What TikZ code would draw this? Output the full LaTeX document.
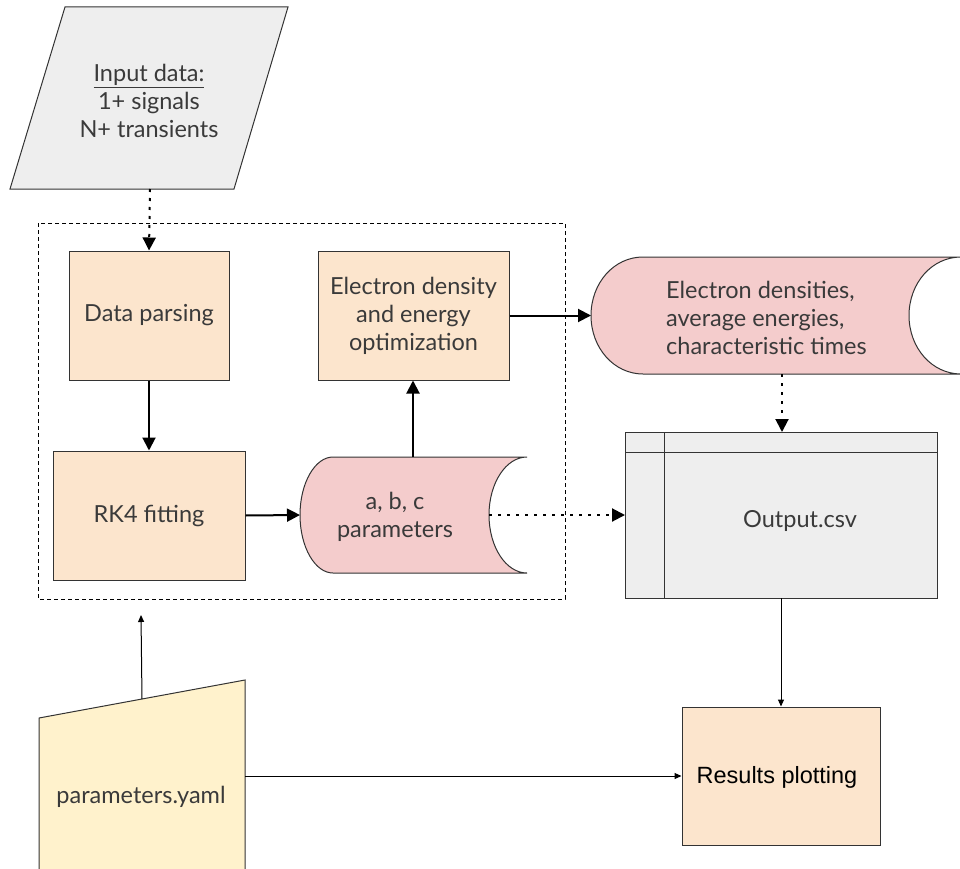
\documentclass[tikz,border=0pt]{standalone}
\usepackage{fontspec}
\setmainfont{Lato}
\newfontfamily\arialfont{Liberation Sans}
\usetikzlibrary{arrows.meta}
\definecolor{procfill}{HTML}{FCE5CD}
\definecolor{storefill}{HTML}{F4CCCC}
\definecolor{greyfill}{HTML}{EEEEEE}
\definecolor{yamlfill}{HTML}{FFF2CC}
\definecolor{ink}{HTML}{333333}
\definecolor{textink}{HTML}{3A3A3A}
\begin{document}
\begin{tikzpicture}[x=1pt,y=-1pt,
  txt/.style={font=\fontsize{23.5}{28}\selectfont, text=textink, align=center, inner sep=0pt},
  procbox/.style={draw=ink, line width=1pt, fill=procfill, txt},
  outline/.style={draw=ink, line width=1pt},
  bigarrow/.style={line width=2pt, -{Triangle[length=13pt,width=13pt]}},
  dotarrow/.style={line width=2pt, dash pattern=on 3pt off 6pt, -{Triangle[length=13pt,width=13pt]}},
  thinarrow/.style={line width=1pt, -{Triangle[length=7pt,width=6pt]}}
]
\useasboundingbox (0,0) rectangle (960,869);
\clip (0,0) rectangle (960,869);

% input data (parallelogram)
\filldraw[outline, fill=greyfill] (65,7) -- (288,7) -- (234,189) -- (10,189) -- cycle;
\node[txt] (input) at (149,101) {\underline{Input data:}\\1+ signals\\N+ transients};
\coordinate (inbot) at (150,189);

% processing group
\draw[line width=1pt, dash pattern=on 4pt off 3pt] (38,223) rectangle (565,599);
\coordinate (grpin) at (141,615);

\node[procbox, minimum width=160, minimum height=129] (parse) at (149,315.5) {Data parsing};
\node[procbox, minimum width=192, minimum height=129] (rk4) at (149,515.5) {RK4 fitting};
\node[procbox, minimum width=191, minimum height=129] (opt) at (413.5,315.5) {Electron density\\and energy\\optimization};

% a, b, c parameters (stored data)
\filldraw[outline, fill=storefill]
  (333,457) -- (527,457)
  .. controls (506,457) and (489,483) .. (489,515)
  .. controls (489,547) and (506,573) .. (527,573)
  -- (333,573)
  .. controls (315,573) and (300,547) .. (300,515)
  .. controls (300,483) and (315,457) .. (333,457) -- cycle;
\node[txt] (abc) at (395,517) {a, b, c\\parameters};
\coordinate (abcL) at (300,515);
\coordinate (abcR) at (489,515);
\coordinate (abcT) at (413,457);

% electron densities (stored data)
\filldraw[outline, fill=storefill]
  (643,257) -- (961,257)
  .. controls (932,257) and (909,283) .. (909,315.5)
  .. controls (909,348) and (932,374) .. (961,374)
  -- (643,374)
  .. controls (614,374) and (591,348) .. (591,315.5)
  .. controls (591,283) and (614,257) .. (643,257) -- cycle;
\node[txt, align=left, anchor=west] (dens) at (666,318) {Electron densities,\\average energies,\\characteristic times};
\coordinate (densL) at (591,315.5);
\coordinate (densB) at (782,374);

% Output.csv (internal storage)
\node[draw=ink, line width=1pt, fill=greyfill, minimum width=312, minimum height=166] (csv) at (781,515) {};
\draw[outline] (664,432) -- (664,598);
\draw[outline] (625,452) -- (937,452);
\node[txt] (csvlabel) at (800,521) {Output.csv};
\coordinate (csvL) at (625,515);
\coordinate (csvT) at (782,432);
\coordinate (csvB) at (781,598);

% results plotting
\node[draw=ink, line width=1pt, fill=procfill, minimum width=198, minimum height=138] (plot) at (781,776) {};
\node[font=\arialfont\fontsize{23.5}{28}\selectfont, text=black, inner sep=0pt] (plotlabel) at (777,777) {Results plotting};

% parameters.yaml (manual input)
\fill[yamlfill] (39,718) -- (245,680) -- (245,870) -- (39,870) -- cycle;
\draw[outline] (39,870) -- (39,718) -- (245,680) -- (245,870);
\node[txt] (yaml) at (141,797) {parameters.yaml};
\coordinate (yamltop) at (142,699);
\coordinate (yamlR) at (245,776);

% connectors
\draw[dotarrow] (inbot) -- (parse.north);
\draw[bigarrow] (parse) -- (rk4);
\draw[bigarrow] (rk4.east) -- (abcL);
\draw[bigarrow] (abcT) -- (opt.south -| abcT);
\draw[bigarrow] (opt.east) -- (densL);
\draw[dotarrow] (densB) -- (csvT);
\draw[dotarrow] (abcR) -- (csvL);
\draw[thinarrow] (csvB) -- (plot.north);
\draw[thinarrow] (yamlR) -- (plot.west);
\draw[thinarrow] (yamltop) -- (grpin);
\end{tikzpicture}
\end{document}
